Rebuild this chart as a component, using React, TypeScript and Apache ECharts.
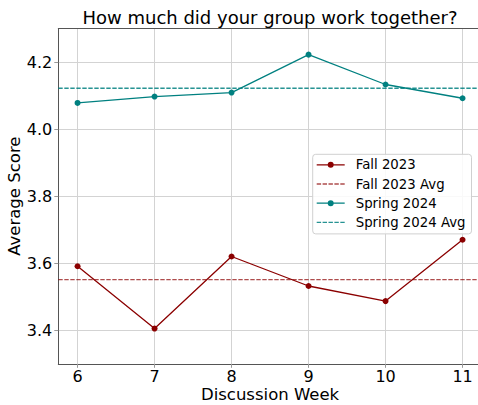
import React, { useEffect, useRef } from "react";
import * as echarts from "echarts";

const weeks = [6, 7, 8, 9, 10, 11];
const fall2023 = [3.591, 3.405, 3.62, 3.532, 3.487, 3.67];
const spring2024 = [4.078, 4.097, 4.109, 4.222, 4.133, 4.092];
const xTicks = [6, 7, 8, 9, 10, 11];
const yTicks = [3.4, 3.6, 3.8, 4.0, 4.2];
const xRange = [5.75, 11.25];
const yRange = [3.3, 4.3];

const FALL = "#8b0000";
const SPRING = "#008080";
const FONT = "DejaVu Sans";

const mean = (a: number[]) => a.reduce((s, v) => s + v, 0) / a.length;

// legend icons: solid line with marker, and dashed line (28 x 14 box)
const ICON_MARKER =
  "path://M0,6.35h28v1.3h-28Z M11,7a3,3 0 1,1 6,0a3,3 0 1,1 -6,0Z";
const ICON_DASH =
  "path://M0,6.35h4.4v1.3h-4.4Z M5.9,6.35h4.4v1.3h-4.4Z M11.8,6.35h4.4v1.3h-4.4Z M17.7,6.35h4.4v1.3h-4.4Z M23.6,6.35h4.4v1.3h-4.4Z";

export default function App() {
  const ref = useRef<HTMLDivElement>(null);
  useEffect(() => {
    if (!ref.current) return;
    const chart = echarts.init(ref.current, null, { renderer: "svg" });
    const fallAvg = mean(fall2023);
    const springAvg = mean(spring2024);
    const axisLine = { show: true, lineStyle: { color: "#555", width: 1 } };
    const splitLine = { show: true, lineStyle: { color: "#d3d3d3", width: 1 } };
    chart.setOption({
      animation: false,
      backgroundColor: "#fff",
      graphic: [
        {
          type: "text",
          x: 270,
          y: 17,
          style: {
            text: "How much did your group work together?",
            font: `18px "${FONT}"`,
            fill: "#000",
            textAlign: "center",
            textVerticalAlign: "middle",
          },
        },
      ],
      grid: {
        left: 58.3,
        top: 28.5,
        right: -3.8,
        bottom: 41.2,
        containLabel: false,
        outerBoundsMode: "none",
      },
      legend: {
        orient: "vertical",
        left: 312.7,
        top: 154.3,
        padding: [4, 6, 5, 4],
        itemWidth: 28,
        itemHeight: 14,
        itemGap: 6.2,
        backgroundColor: "rgba(255,255,255,0.85)",
        borderColor: "#d0d0d0",
        borderWidth: 1,
        borderRadius: 3,
        textStyle: {
          fontFamily: FONT,
          fontSize: 13.3,
          color: "#000",
          padding: [0, 0, 0, 6],
        },
        data: [
          { name: "Fall 2023", icon: ICON_MARKER },
          { name: "Fall 2023 Avg", icon: ICON_DASH },
          { name: "Spring 2024", icon: ICON_MARKER },
          { name: "Spring 2024 Avg", icon: ICON_DASH },
        ],
      },
      xAxis: [
        {
          type: "value",
          min: xRange[0],
          max: xRange[1],
          splitNumber: 5,
          minInterval: 1,
          name: "Discussion Week",
          nameLocation: "middle",
          nameGap: 23.5,
          nameMoveOverlap: false,
          nameTextStyle: { fontFamily: FONT, fontSize: 16.5, lineHeight: 14, color: "#000" },
          axisLine,
          splitLine,
          axisTick: { show: true, length: 4, lineStyle: { color: "#999" }, customValues: xTicks },
          axisLabel: {
            customValues: xTicks,
            fontFamily: FONT,
            fontSize: 16,
            lineHeight: 14,
            color: "#000",
            margin: 6,
            formatter: (v: number) => String(v),
          },
        },
        {
          type: "value",
          position: "top",
          min: xRange[0],
          max: xRange[1],
          axisLine,
          axisTick: { show: false },
          axisLabel: { show: false },
          splitLine: { show: false },
        },
      ],
      yAxis: {
        type: "value",
        min: yRange[0],
        max: yRange[1],
        splitNumber: 5,
        name: "Average Score",
        nameLocation: "middle",
        nameGap: 35,
        nameMoveOverlap: false,
        nameTextStyle: { fontFamily: FONT, fontSize: 16.5, color: "#000" },
        axisLine,
        splitLine,
        axisTick: { show: true, length: 4, lineStyle: { color: "#999" }, customValues: yTicks },
        axisLabel: {
          customValues: yTicks,
          fontFamily: FONT,
          fontSize: 16,
          color: "#000",
          margin: 6,
          formatter: (v: number) => v.toFixed(1),
        },
      },
      series: [
        {
          name: "Fall 2023",
          type: "line",
          data: weeks.map((w, i) => [w, fall2023[i]]),
          symbol: "circle",
          symbolSize: 6,
          lineStyle: { color: FALL, width: 1.3 },
          itemStyle: { color: FALL },
          z: 3,
        },
        {
          name: "Fall 2023 Avg",
          type: "line",
          data: [
            [xRange[0], fallAvg],
            [xRange[1], fallAvg],
          ],
          symbol: "none",
          lineStyle: { color: FALL, width: 1.3, type: [4.4, 1.6], opacity: 0.7 },
          itemStyle: { color: FALL, opacity: 0.7 },
          z: 2,
        },
        {
          name: "Spring 2024",
          type: "line",
          data: weeks.map((w, i) => [w, spring2024[i]]),
          symbol: "circle",
          symbolSize: 6,
          lineStyle: { color: SPRING, width: 1.3 },
          itemStyle: { color: SPRING },
          z: 3,
        },
        {
          name: "Spring 2024 Avg",
          type: "line",
          data: [
            [xRange[0], springAvg],
            [xRange[1], springAvg],
          ],
          symbol: "none",
          lineStyle: { color: SPRING, width: 1.3, type: [4.4, 1.6], opacity: 0.85 },
          itemStyle: { color: SPRING, opacity: 0.85 },
          z: 2,
        },
      ],
    });
    return () => chart.dispose();
  }, []);
  return (
    <div
      ref={ref}
      style={{ position: "absolute", left: 0, top: 0, width: 478, height: 405 }}
    />
  );
}
